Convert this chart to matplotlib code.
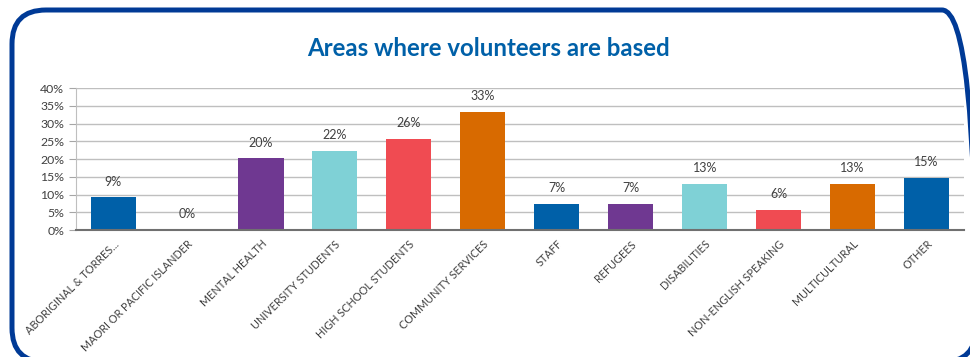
import matplotlib.pyplot as plt
from matplotlib.patches import FancyBboxPatch
from matplotlib.ticker import PercentFormatter

categories = ["ABORIGINAL & TORRES...", "MAORI OR PACIFIC ISLANDER", "MENTAL HEALTH",
              "UNIVERSITY STUDENTS", "HIGH SCHOOL STUDENTS", "COMMUNITY SERVICES",
              "STAFF", "REFUGEES", "DISABILITIES", "NON-ENGLISH SPEAKING",
              "MULTICULTURAL", "OTHER"]
shares = [0.092, 0.0, 0.202, 0.222, 0.257, 0.332, 0.073, 0.073, 0.129, 0.056, 0.129, 0.147]
colors = ["#0060A8", "#0060A8", "#6F3891", "#7FD1D6", "#F04B52", "#D86A00",
          "#0060A8", "#6F3891", "#7FD1D6", "#F04B52", "#D86A00", "#0060A8"]

plt.rcParams['font.family'] = ['Lato', 'DejaVu Sans']

fig = plt.figure(figsize=(9.705, 3.57), dpi=100)

# rounded frame around the whole chart, in pixels; it runs past the right and bottom edges
W, H = 970, 357
left, top, right, bottom = 12, 10, 976, 362
frame = FancyBboxPatch((left, H - bottom), right - left, bottom - top,
                       boxstyle="round,pad=0,rounding_size=34",
                       transform=None, fill=False, edgecolor="#003A96",
                       linewidth=3.6, clip_on=False)
fig.patches.append(frame)

fig.text(0.503, 0.865, "Areas where volunteers are based", ha="center", va="center",
         fontsize=17.3, fontweight="bold", color="#0060A8")

ax = fig.add_axes([0.0784, 0.3557, 0.9144, 0.3978])
x = range(len(categories))
bars = ax.bar(x, shares, width=0.61, color=colors, zorder=3)

for xi, v in zip(x, shares):
    ax.annotate(f"{v:.0%}", (xi, v), xytext=(0, 7), textcoords="offset points",
                ha="center", va="bottom", fontsize=9, color="#404040")

ax.set_xlim(-0.5, len(categories) - 0.5)
ax.set_ylim(0, 0.40)
ax.set_yticks([i * 0.05 for i in range(9)])
ax.yaxis.set_major_formatter(PercentFormatter(1.0, decimals=0))
ax.grid(axis="y", color="#BFBFBF", linewidth=1, zorder=0)

ax.set_xticks(list(x))
ax.set_xticklabels(categories, rotation=45, ha="right", rotation_mode="anchor",
                   fontsize=7.8, color="#404040")
ax.tick_params(axis="x", length=0, pad=6)
ax.tick_params(axis="y", labelsize=8.8, labelcolor="#404040", color="#A6A6A6", length=5)

for side in ["top", "right"]:
    ax.spines[side].set_visible(False)
ax.spines["left"].set_color("#BFBFBF")
ax.spines["bottom"].set_color("#707070")
ax.spines["bottom"].set_linewidth(1.5)
ax.spines["bottom"].set_zorder(4)

fig.savefig("out.png", dpi=100)
